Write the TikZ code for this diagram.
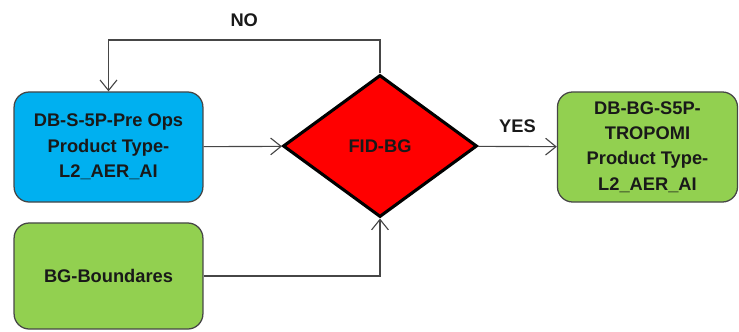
\documentclass[tikz,border=0pt]{standalone}
\usepackage{fontspec}
\setmainfont{Liberation Sans}
\usetikzlibrary{shapes.geometric,arrows.meta}
\definecolor{boxblue}{RGB}{0,176,240}
\definecolor{boxgreen}{RGB}{146,208,80}
\definecolor{linegrey}{RGB}{70,70,70}
\definecolor{textdark}{RGB}{25,25,25}
\begin{document}
\begin{tikzpicture}
    [
    x=0.025cm, y=-0.025cm,
    every node/.style={font=\fontsize{13}{18}\selectfont\bfseries, text=textdark},
    box/.style={rectangle,rounded corners=0.38cm,draw=linegrey,line width=0.9pt,
      align=center,minimum width=4.72cm,minimum height=2.75cm,inner sep=0pt},
    decision/.style={diamond,draw=black,line width=2.2pt,fill=red,aspect=1.37,
      minimum width=4.85cm,minimum height=3.55cm,inner sep=0pt},
    flow/.style={draw=linegrey,line width=0.8pt,-{Straight Barb[length=2.6mm,width=4.2mm]}}
    ]
    \useasboundingbox (0,0) rectangle (739,331);
    \node (pre) at (108.5,147) [box,fill=boxblue] {DB-S-5P-Pre Ops\\Product Type-\\L2\_AER\_AI};
    \node (bnd) at (108.5,276) [box,fill=boxgreen,minimum height=2.65cm] {BG-Boundares};
    \node (fid) at (380,146) [decision] {FID-BG};
    \node (out) at (647.5,147) [box,fill=boxgreen,minimum width=4.5cm] {DB-BG-S5P-\\TROPOMI\\Product Type-\\L2\_AER\_AI};
    \coordinate (top) at (380,40);
    \coordinate (turn) at (380,276);

    \draw [flow] (pre) -- (fid);
    \draw [flow] (fid) -- node [above=6pt] {YES} (out);
    \draw [flow] (bnd) -- (turn) -- (fid.south);
    \draw [flow] (fid.north) -- (top) -| node [pos=0.25,above=6pt] {NO} (pre.north);
  \end{tikzpicture}
\end{document}
